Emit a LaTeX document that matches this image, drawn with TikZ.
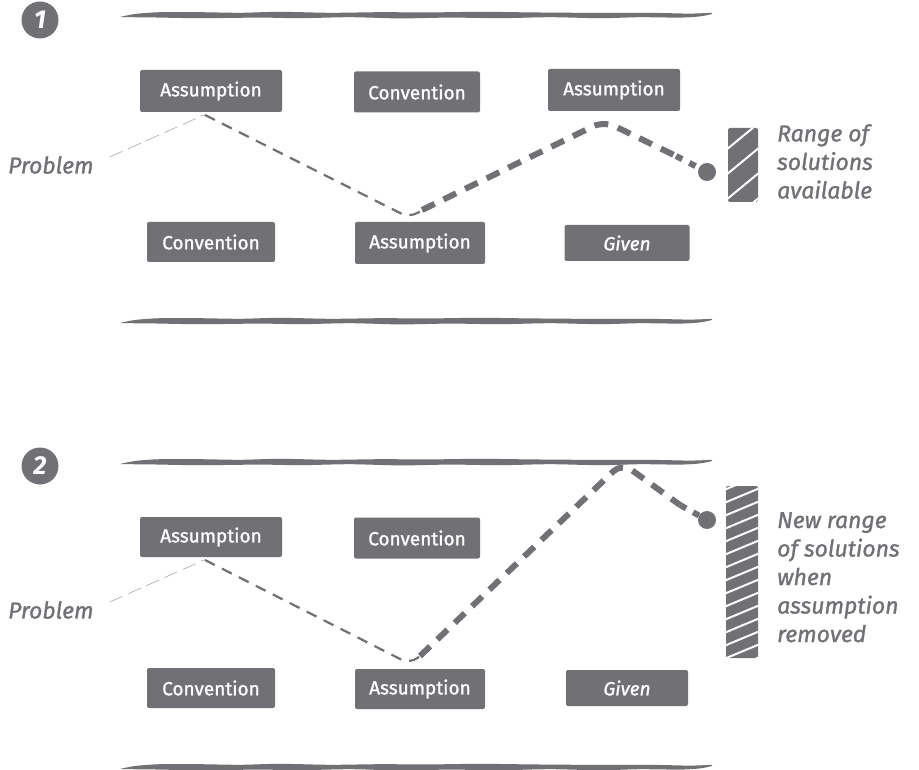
\documentclass[tikz,border=0pt]{standalone}
\usepackage{fontspec}
\setmainfont{Fira Sans}
\newfontfamily\hand[FakeBold=1.2]{Fira Sans}
\usetikzlibrary{calc}
\definecolor{ink}{HTML}{707075}
\begin{document}
\begin{tikzpicture}[x=1pt,y=-1pt,
  box/.style={fill=ink, text=white, rounded corners=2pt, inner sep=0pt, font=\hand\fontsize{19}{22}\selectfont},
  badge/.style={circle, fill=ink, text=white, minimum size=37pt, inner sep=0pt, font=\fontsize{26}{28}\selectfont\bfseries\itshape},
  side/.style={text=ink, align=left, anchor=north west, inner sep=0pt, font=\hand\fontsize{23}{28.5}\selectfont\itshape},
  prob/.style={text=ink, inner sep=0pt, font=\hand\fontsize{23}{26}\selectfont\itshape},
  bar/.style={fill=ink, rounded corners=2pt, inner sep=0pt},
  hatch/.style={white, line width=2pt},
  dot/.style={circle, fill=ink, minimum size=18pt, inner sep=0pt},
  thinl/.style={ink!55, line width=0.7pt, dash pattern=on 14pt off 6pt},
  medl/.style={ink, line width=2.2pt, dash pattern=on 11pt off 8pt, rounded corners=10pt},
  thickl/.style={ink, line width=6pt, dash pattern=on 14pt off 10pt, rounded corners=12pt},
]
\useasboundingbox (0,0) rectangle (919,770);

% wavy rule
\newcommand\wavyrule[1]{%
  \begin{scope}[shift={(0,#1)}]
  \fill[ink] plot[smooth] coordinates {(120,2) (135,-1) (160,-2.8) (200,-2.8) (240,-2.2) (280,-3.2) (330,-2.2) (380,-2.8) (430,-2.6) (480,-3.2) (530,-2.6) (580,-2.2) (620,-2.2) (660,-2) (690,-1.4) (712,-2.2)}
   -- plot[smooth] coordinates {(712,-1) (700,1.4) (680,2.6) (640,2.2) (600,3.2) (550,2.2) (500,3.2) (450,2.6) (400,3.4) (350,2.2) (300,3.2) (260,2.6) (200,3.2) (150,2.4) (125,2.2)} -- cycle;
  \end{scope}}

%% ---------- Panel 1 ----------
\wavyrule{15}
\wavyrule{321}
\node[badge] (b1) at (40,20) {1};

\node[box, minimum width=142pt, minimum height=42pt] (a11) at (211,91) {Assumption};
\node[box, minimum width=126pt, minimum height=41pt] (c11) at (417,92) {Convention};
\node[box, minimum width=132pt, minimum height=42pt] (a12) at (614,90) {Assumption};
\node[box, minimum width=128pt, minimum height=40pt] (c12) at (211,242) {Convention};
\node[box, minimum width=130pt, minimum height=42pt] (a13) at (420,243) {Assumption};
\node[box, minimum width=125pt, minimum height=36pt] (g1) at (627,243) {\itshape Given};

\node[prob, anchor=west] (p1) at (8,165) {Problem};

\node[bar, minimum width=30pt, minimum height=74pt] (r1) at (743,165) {};
\begin{scope}
  \clip[rounded corners=2pt] (r1.south west) rectangle (r1.north east);
  \foreach \s in {125,150,...,250} \draw[hatch] (726,\s) -- ++(34,-28);
\end{scope}
\node[side] (t1) at (777,124) {Range of\\solutions\\available};

\node[dot] (d1) at (707,172) {};
\coordinate (k1) at (205,115);
\coordinate (v1) at (410,218);
\coordinate (q1) at (604,121);

\draw[thinl] ($(p1.east)+(16,-8)$) -- ($(k1)+(-10,4)$) to[out=20,in=180] (k1);
\draw[medl] (k1) -- (v1) -- (422,210);
\draw[thickl] (422,210) -- (q1) -- (676,156);
\draw[ink, line width=6pt, dash pattern=on 7pt off 8pt] (676,156) -- (d1);

%% ---------- Panel 2 ----------
\wavyrule{462}
\wavyrule{767}
\node[badge] (b2) at (40,466) {2};

\node[box, minimum width=142pt, minimum height=40pt] (a21) at (211,537) {Assumption};
\node[box, minimum width=126pt, minimum height=41pt] (c21) at (417,538) {Convention};
\node[box, minimum width=128pt, minimum height=40pt] (c22) at (211,688) {Convention};
\node[box, minimum width=130pt, minimum height=40pt] (a23) at (420,689) {Assumption};
\node[box, minimum width=122pt, minimum height=36pt] (g2) at (627,688) {\itshape Given};

\node[prob, anchor=west] (p2) at (8,610) {Problem};

\node[bar, minimum width=32pt, minimum height=172pt] (r2) at (742,572) {};
\begin{scope}
  \clip[rounded corners=2pt] (r2.south west) rectangle (r2.north east);
  \foreach \s in {490,503,...,690} \draw[hatch] (724,\s) -- ++(36,-15);
\end{scope}
\node[side] (t2) at (777,512) {New range\\of solutions\\when\\assumption\\removed};

\node[dot] (d2) at (707,520) {};
\coordinate (k2) at (205,560);
\coordinate (v2) at (410,664);
\coordinate (q2) at (622,463);

\draw[thinl] ($(p2.east)+(16,-8)$) -- ($(k2)+(-10,4)$) to[out=20,in=180] (k2);
\draw[medl] (k2) -- (v2) -- (420,656);
\draw[thickl] (420,656) -- (q2) -- (680,505);
\draw[ink, line width=6pt, dash pattern=on 7pt off 8pt] (680,505) -- (d2);
\end{tikzpicture}
\end{document}
